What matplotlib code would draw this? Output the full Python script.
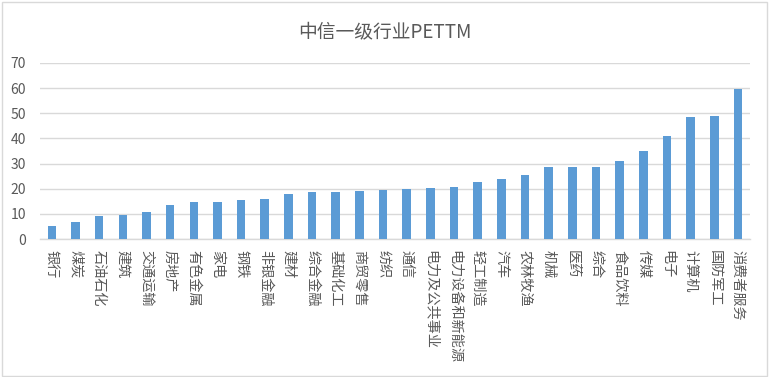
import numpy as np
import matplotlib.pyplot as plt
from matplotlib.patches import Rectangle

plt.rcParams['font.family'] = ['Noto Sans CJK SC', 'DejaVu Sans']

industries = ['银行', '煤炭', '石油石化', '建筑', '交通运输', '房地产', '有色金属', '家电',
              '钢铁', '非银金融', '建材', '综合金融', '基础化工', '商贸零售', '纺织', '通信',
              '电力及公共事业', '电力设备和新能源', '轻工制造', '汽车', '农林牧渔', '机械',
              '医药', '综合', '食品饮料', '传媒', '电子', '计算机', '国防军工', '消费者服务']
pettm = [5.2, 6.6, 9.2, 9.7, 10.8, 13.5, 14.7, 14.7, 15.5, 15.9, 17.8, 18.8, 18.8,
         19.1, 19.6, 20.0, 20.3, 20.6, 22.7, 23.9, 25.5, 28.6, 28.6, 28.8, 31.1,
         35.1, 41.0, 48.6, 49.0, 59.5]
yticks = [0, 10, 20, 30, 40, 50, 60, 70]

text_color = '#595959'

fig = plt.figure(figsize=(7.69, 3.77), dpi=100)
ax = fig.add_axes([0.052, 0.366, 0.923, 0.467])

x = np.arange(len(industries))
ax.bar(x, pettm, width=0.36, color='#5B9BD5', zorder=3)

ax.set_xlim(-0.5, len(industries) - 0.5)
ax.set_ylim(0, 70)
ax.set_yticks(yticks)
ax.set_xticks(x)
ax.set_xticklabels(industries, rotation=270, fontsize=10.2, color=text_color,
                   ha='center', va='top')
ax.tick_params(axis='y', labelsize=10, labelcolor=text_color, length=0, pad=10)
ax.tick_params(axis='x', length=0, pad=8)

ax.grid(axis='y', color='#D9D9D9', linewidth=1, zorder=0)
for s in ['top', 'right', 'left']:
    ax.spines[s].set_visible(False)
ax.spines['bottom'].set_color('#D9D9D9')
ax.spines['bottom'].set_linewidth(1)

fig.text(0.5, 0.915, '中信一级行业PETTM', ha='center', va='center',
         fontsize=13.5, color=text_color)

# chart border
fig.patches.append(Rectangle((0.002, 0.003), 0.995, 0.993, transform=fig.transFigure,
                             fill=False, edgecolor='#D9D9D9', linewidth=1))

plt.savefig('out.png', dpi=100)
